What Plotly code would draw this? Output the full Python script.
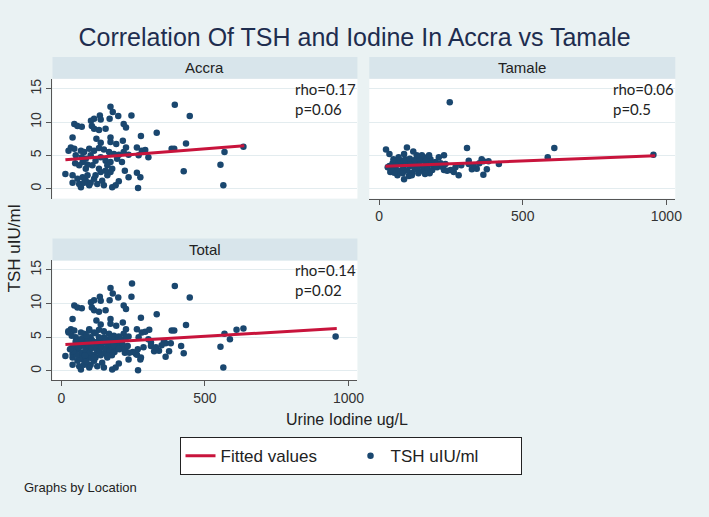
import numpy as np
import plotly.graph_objects as go

# ---------------- data ----------------
accra_iodine = [171, 179, 395, 447, 134, 137, 114, 103, 168, 198, 244, 217, 225, 45, 56, 71, 106, 114, 131, 154,
                332, 277, 39, 122, 171, 137, 171, 191, 214, 225, 263, 280, 292, 434, 384, 393, 568, 634, 33, 25,
                45, 68, 79, 97, 114, 131, 148, 166, 183, 200, 217, 234, 269, 303, 50, 71, 85, 102, 119, 137,
                154, 171, 74, 91, 108, 160, 177, 221, 263, 14, 39, 56, 74, 85, 102, 114, 125, 142, 160, 171,
                62, 39, 68, 97, 148, 177, 189, 200, 234, 275, 267, 426, 554, 564, 85, 137, 154, 79, 91, 119,
                131, 62, 48, 194, 211]
accra_tsh = [12.3, 11.5, 12.6, 10.9, 11.0, 10.4, 10.5, 10.2, 10.5, 10.9, 11.0, 9.7, 9.2, 9.7, 9.4, 9.3, 9.4, 9.0, 8.8, 9.0,
             8.4, 7.9, 7.7, 7.5, 7.7, 6.9, 7.0, 6.7, 7.2, 6.2, 6.2, 5.7, 5.8, 6.8, 6.0, 6.0, 5.5, 6.3, 6.2, 5.7,
             6.0, 5.7, 5.5, 6.0, 5.7, 6.1, 5.9, 5.5, 5.2, 5.1, 5.5, 5.1, 5.0, 4.7, 5.0, 4.7, 4.5, 5.0, 4.2, 4.7,
             4.2, 4.0, 4.0, 3.6, 3.5, 3.5, 3.0, 2.7, 2.4, 2.2, 2.0, 1.5, 1.7, 1.2, 0.9, 1.5, 0.7, 1.2, 2.0, 2.5,
             0.7, 0.9, 0.2, 0.5, 0.5, 0.2, 0.5, 1.1, 1.7, 1.7, 0.1, 2.6, 3.6, 0.5, 3.0, 2.5, 2.7, 0.9, 2.0, 2.0,
             3.0, 3.5, 3.8, 4.5, 4.0]

tamale_iodine = [246, 24, 36, 97, 87, 119, 156, 208, 226, 306, 312, 357, 363, 381, 417, 587, 610, 955, 277, 260,
                 249, 226, 323, 340, 363, 375, 87, 64, 104, 39, 36, 47, 56, 64, 70, 80, 84, 93, 99, 105,
                 111, 116, 122, 128, 133, 139, 145, 151, 156, 162, 168, 174, 179, 185, 191, 197, 176, 160, 137, 114,
                 82, 53, 41, 30, 59, 76, 91, 107, 125, 141, 164, 183, 202, 214, 222, 231, 237, 266, 286, 312,
                 329, 349, 68, 50, 149, 131, 174, 199]
tamale_tsh = [13.0, 5.9, 5.2, 6.2, 5.2, 5.6, 4.7, 4.7, 5.0, 6.1, 4.2, 4.4, 4.1, 4.1, 3.7, 4.7, 6.1, 5.1, 2.0, 2.5,
              2.8, 2.8, 2.9, 3.0, 2.1, 2.9, 1.4, 2.0, 1.9, 2.5, 3.4, 3.8, 3.2, 4.0, 2.7, 3.7, 3.1, 3.8, 2.7, 3.4,
              4.0, 2.4, 3.2, 3.8, 2.9, 3.5, 4.2, 2.7, 3.3, 3.9, 3.0, 3.7, 4.4, 2.8, 3.4, 4.0, 2.3, 2.2, 2.3, 2.0,
              2.3, 2.4, 2.9, 3.2, 3.5, 4.2, 4.4, 4.5, 4.3, 4.5, 4.4, 3.8, 3.2, 3.8, 3.2, 3.7, 2.7, 3.2, 3.5, 3.7,
              3.5, 3.8, 4.7, 4.4, 5.0, 5.0, 5.0, 3.3]

# fitted lines (end points)
accra_fit_x = [14, 637]
accra_fit_y = [4.35, 6.45]
tamale_fit_x = [22, 961]
tamale_fit_y = [3.35, 4.95]
total_fit_x = [14, 959]
total_fit_y = [3.9, 6.3]

panel_names = ["Accra", "Tamale", "Total"]
rho_labels = ["rho=0.17<br>p=0.06", "rho=0.06<br>p=0.5", "rho=0.14<br>p=0.02"]
y_ticks = [0, 5, 10, 15]
x_ticks = [0, 500, 1000]

total_iodine = list(np.concatenate([accra_iodine, tamale_iodine]))
total_tsh = list(np.concatenate([accra_tsh, tamale_tsh]))

# ---------------- style ----------------
W, H = 709, 517
BG = "#EAF2F3"
STRIP = "#D8E5EB"
NAVY = "#1A476F"
RED = "#C8143C"
GRID = "#E3ECEF"
AX = "#555555"
FONT = "Liberation Sans, Arial, sans-serif"


def fx(p):
    return p / W


def fy(p):
    return 1 - p / H


panels = [
    dict(name="Accra", x=(53, 361), y=(78, 198), xr=[-31, 1031], yr=[-1.5, 16.5],
         data=(accra_iodine, accra_tsh), fit=(accra_fit_x, accra_fit_y),
         showx=False, showy=True, rho=rho_labels[0], rhox=296),
    dict(name="Tamale", x=(373, 682), y=(78, 198), xr=[-34, 1031], yr=[-1.5, 16.5],
         data=(tamale_iodine, tamale_tsh), fit=(tamale_fit_x, tamale_fit_y),
         showx=True, showy=False, rho=rho_labels[1], rhox=617),
    dict(name="Total", x=(53, 361), y=(260, 380), xr=[-31, 1031], yr=[-1.4, 16.4],
         data=(total_iodine, total_tsh), fit=(total_fit_x, total_fit_y),
         showx=True, showy=True, rho=rho_labels[2], rhox=296),
]

fig = go.Figure()
shapes = []
annotations = []

for i, p in enumerate(panels):
    n = i + 1
    xa = "x" if n == 1 else f"x{n}"
    ya = "y" if n == 1 else f"y{n}"
    fig.add_trace(go.Scatter(
        x=p["data"][0], y=p["data"][1], mode="markers", xaxis=xa, yaxis=ya,
        marker=dict(color=NAVY, size=6.5), name="TSH uIU/ml",
        showlegend=(n == 1), legendrank=2, hoverinfo="x+y"))
    fig.add_trace(go.Scatter(
        x=p["fit"][0], y=p["fit"][1], mode="lines", xaxis=xa, yaxis=ya,
        line=dict(color=RED, width=3), name="Fitted values",
        showlegend=(n == 1), legendrank=1))

    xkey = "xaxis" if n == 1 else f"xaxis{n}"
    ykey = "yaxis" if n == 1 else f"yaxis{n}"
    fig.update_layout({
        xkey: dict(domain=[fx(p["x"][0]), fx(p["x"][1])], range=p["xr"], anchor=ya,
                   showgrid=False, zeroline=False,
                   showline=p["showx"], linecolor=AX, linewidth=1,
                   ticks="outside" if p["showx"] else "", ticklen=5, tickcolor=AX,
                   tickvals=x_ticks, showticklabels=p["showx"],
                   tickfont=dict(family=FONT, size=14, color="#333")),
        ykey: dict(domain=[fy(p["y"][1]), fy(p["y"][0])], range=p["yr"], anchor=xa,
                   showgrid=True, gridcolor=GRID, gridwidth=1, zeroline=False,
                   showline=p["showy"], linecolor=AX, linewidth=1,
                   ticks="outside" if p["showy"] else "", ticklen=5, tickcolor=AX,
                   tickvals=y_ticks, showticklabels=p["showy"], tickangle=-90,
                   tickfont=dict(family=FONT, size=14, color="#333")),
    })

    # strip header
    shapes.append(dict(type="rect", xref="paper", yref="paper",
                       x0=fx(p["x"][0]), x1=fx(p["x"][1]),
                       y0=fy(p["y"][0]), y1=fy(p["y"][0] - 22),
                       fillcolor=STRIP, line=dict(width=0), layer="below"))
    annotations.append(dict(text=p["name"], xref="paper", yref="paper",
                            x=fx((p["x"][0] + p["x"][1]) / 2), y=fy(p["y"][0] - 11),
                            showarrow=False, xanchor="center", yanchor="middle",
                            font=dict(family=FONT, size=15, color="#222")))
    annotations.append(dict(text=p["rho"], xref="paper", yref="paper",
                            x=fx(p["rhox"]), y=fy(p["y"][0] - 1),
                            showarrow=False, xanchor="left", yanchor="top", align="left",
                            font=dict(family="Lato, Open Sans, sans-serif", size=15, color="#222")))

# axis titles and note
annotations.append(dict(text="TSH uIU/ml", xref="paper", yref="paper", x=fx(15), y=fy(248),
                        textangle=-90, showarrow=False, xanchor="center", yanchor="middle",
                        font=dict(family=FONT, size=17, color="#222")))
annotations.append(dict(text="Urine Iodine ug/L", xref="paper", yref="paper", x=fx(350), y=fy(419),
                        showarrow=False, xanchor="center", yanchor="middle",
                        font=dict(family=FONT, size=16, color="#222")))
annotations.append(dict(text="Graphs by Location", xref="paper", yref="paper", x=fx(22), y=fy(487),
                        showarrow=False, xanchor="left", yanchor="middle",
                        font=dict(family=FONT, size=13, color="#222")))

fig.update_layout(
    width=W, height=H,
    margin=dict(l=0, r=0, t=0, b=0),
    paper_bgcolor=BG, plot_bgcolor="white",
    title=dict(text="Correlation Of TSH and Iodine In Accra vs Tamale",
               x=0.5, xanchor="center", y=fy(36), yanchor="middle", yref="paper",
               font=dict(family=FONT, size=25, color="#1E2D4F")),
    shapes=shapes, annotations=annotations,
    legend=dict(orientation="h", x=fx(354), xanchor="center", y=fy(437), yanchor="top",
                bgcolor="white", bordercolor="#222", borderwidth=1,
                font=dict(family=FONT, size=17, color="#222"),
                itemwidth=30, entrywidth=125, traceorder="normal"),
    showlegend=True,
)

fig.write_html("out.html",
               config={"displayModeBar": False},
               post_script="document.body.style.margin='0';document.body.style.background='#EAF2F3';")
